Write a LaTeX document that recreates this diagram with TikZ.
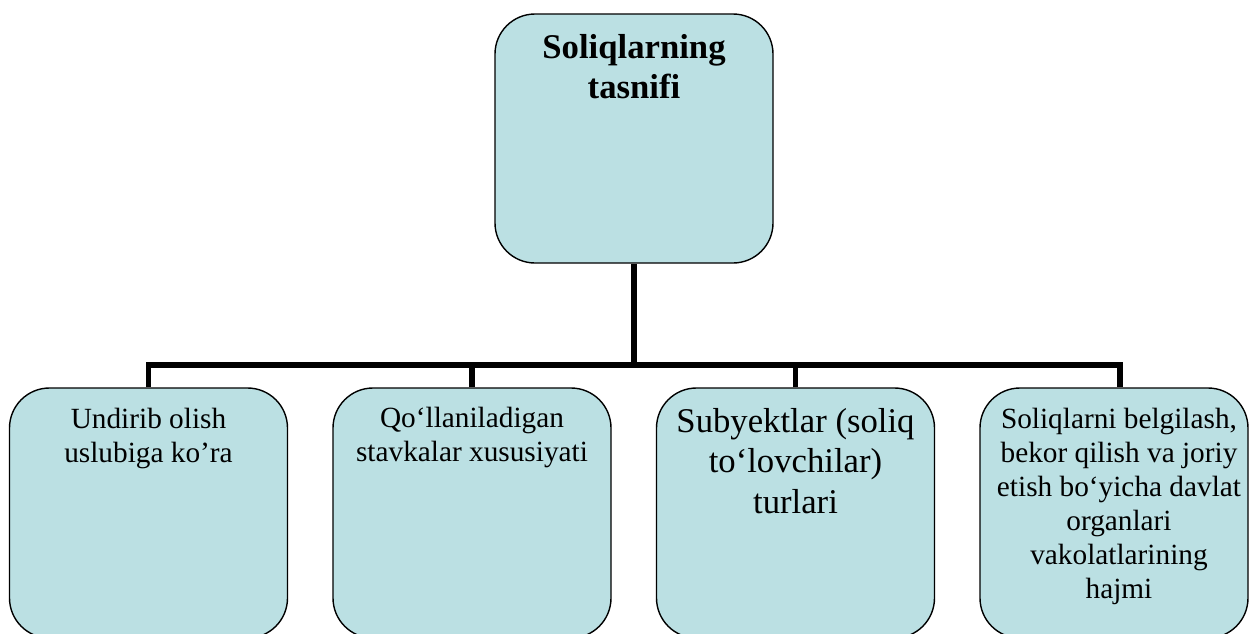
\documentclass[tikz,border=0pt]{standalone}
\usepackage{fontspec}
\setmainfont{Liberation Serif}
\definecolor{boxfill}{RGB}{187,224,227}
\begin{document}
\begin{tikzpicture}[x=1pt,y=-1pt,
  box/.style={draw=black, line width=1.4pt, fill=boxfill, rounded corners=40pt,
              inner sep=0pt, minimum width=278pt},
  % texts are placed by the baseline of their last line
  lbl/.style={align=center, inner sep=0pt, anchor=base,
              font=\fontsize{29.3}{34}\selectfont},
  biglbl/.style={lbl, font=\fontsize{34.7}{40.5}\selectfont},
  link/.style={line width=5.5pt}]
\useasboundingbox (0,0) rectangle (1251,633);
\clip (0,0) rectangle (1251,633);

% boxes
\node[box, minimum height=249pt] (root) at (634,138.5) {};
\node[box, minimum height=250pt] (b1) at (148.5,513) {};
\node[box, minimum height=250pt] (b2) at (472,513) {};
\node[box, minimum height=250pt] (b3) at (795.5,513) {};
\node[box, minimum height=250pt, minimum width=268pt] (b4) at (1114,513) {};

% bus connecting the root to the four classes
\coordinate (bus) at (634,365);
\draw[link] (root.south) -- (bus);
\draw[link] (b1.north) -- (b1.north |- bus) -- ([xshift=6pt]b4.north |- bus)
            -- ([xshift=6pt]b4.north);
\draw[link] (b2.north) -- (b2.north |- bus);
\draw[link] (b3.north) -- (b3.north |- bus);

% texts
\node[biglbl, font=\fontsize{34.7}{40.5}\selectfont\bfseries] (t0) at (634,98.5)
  {Soliqlarning\\tasnifi};
\node[lbl] (t1) at (148.5,462) {Undirib olish\\uslubiga ko’ra};
\node[lbl] (t2) at (472,461) {Qo‘llaniladigan\\stavkalar xususiyati};
\node[biglbl] (t3) at (795.5,513) {Subyektlar (soliq\\to‘lovchilar)\\turlari};
\node[lbl] (t4) at (1119,598) {Soliqlarni belgilash,\\bekor qilish va joriy\\etish bo‘yicha davlat\\organlari\\vakolatlarining\\hajmi};
\end{tikzpicture}
\end{document}
